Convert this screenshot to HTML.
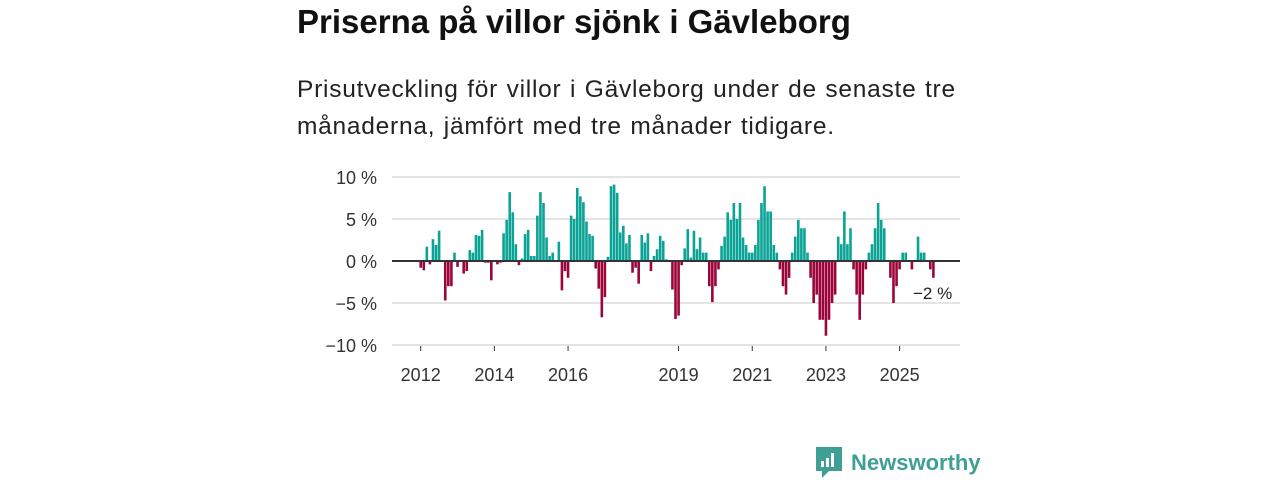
<!DOCTYPE html>
<html><head><meta charset="utf-8"><style>
body{margin:0;background:#fff;width:1280px;height:480px;overflow:hidden;font-family:"Liberation Sans","DejaVu Sans",sans-serif;}
#title{position:absolute;left:297px;top:3px;font-size:33px;font-weight:bold;color:#111;margin:0;}
#sub{position:absolute;left:297px;top:71px;font-size:24.5px;letter-spacing:0.75px;word-spacing:1px;line-height:37px;color:#222;width:700px;}
svg{position:absolute;left:0;top:0;}
</style></head><body>
<h1 id="title">Priserna på villor sjönk i Gävleborg</h1>
<div id="sub">Prisutveckling för villor i Gävleborg under de senaste tre månaderna, jämfört med tre månader tidigare.</div>
<svg id="chart" width="1280" height="480"></svg>
<div style="position:absolute;left:815px;top:447px;display:flex;align-items:center;">
<svg width="28" height="32" style="position:static"><path d="M1 0h26v24H14l-7 7v-7H1z" fill="#3f9f94"/><rect x="6" y="14" width="3" height="6" fill="#fff"/><rect x="11" y="11" width="3" height="9" fill="#fff"/><rect x="16" y="6" width="3" height="14" fill="#fff"/></svg>
<span style="margin-left:8px;font-size:22px;color:#3f9f94;font-weight:bold;">Newsworthy</span></div>
<script>
const values=[-0.8,-1.1,1.7,-0.4,2.6,1.9,3.6,0,-4.7,-3.0,-3.0,1.0,-0.7,0,-1.5,-1.2,1.3,1.0,3.1,3.0,3.7,-0.2,-0.2,-2.3,
0,-0.4,-0.2,3.3,4.9,8.2,5.8,2.0,-0.5,0.3,3.2,3.7,0.6,0.6,5.4,8.2,6.9,2.8,0.6,1.0,0.1,2.3,-3.5,-1.2,
-2.0,5.4,5.0,8.7,7.7,7.0,4.7,3.2,3.0,-0.9,-3.3,-6.7,-4.3,0.5,8.9,9.1,8.1,3.4,4.2,2.1,3.1,-1.4,-0.8,-2.7,
3.1,2.2,3.3,-1.2,0.6,1.4,3.0,2.4,0.2,0,-3.4,-6.9,-6.5,-0.5,1.5,3.8,0.4,3.6,1.4,2.8,1.0,1.0,-3.0,-4.9,
-3.0,-1.0,1.8,2.9,5.8,4.9,6.9,5.0,6.9,2.8,1.9,1.0,1.0,1.9,4.9,6.9,8.9,5.9,5.9,1.9,1.0,-1.0,-3.0,-4.0,
-2.0,1.0,2.9,4.9,3.9,3.9,1.0,-2.0,-5.0,-4.0,-7.0,-7.0,-8.9,-7.0,-5.0,-4.0,2.9,2.0,5.9,2.0,3.9,-1.0,-4.0,-7.0,
-4.0,-1.0,1.0,2.0,3.9,6.9,4.9,3.9,0,-2.0,-5.0,-3.0,-1.0,1.0,1.0,0,-1.0,0,2.9,1.0,1.0,0,-1.0,-2.0];
const yTicks=[10,5,0,-5,-10];
const yTickLabels=["10 %","5 %","0 %","−5 %","−10 %"];
const xTickYears=[2012,2014,2016,2019,2021,2023,2025];
const startYear=2012;
const lastLabel="−2 %";
const svg=document.getElementById('chart');
const NS='http://www.w3.org/2000/svg';
const y=v=>261-v*8.4;
const x=m=>420.7+m*3.07;
function mk(t,a){const e=document.createElementNS(NS,t);for(const k in a)e.setAttribute(k,a[k]);svg.appendChild(e);return e;}
yTicks.forEach((t,i)=>{
 if(t!==0){const g=mk('line',{x1:392,x2:960,y1:y(t),y2:y(t),stroke:'#dcdcdc','stroke-width':1.5});
 
 }
 const l=mk('text',{x:377,y:y(t)+7,'text-anchor':'end','font-size':18,fill:'#333'});
 l.textContent=yTickLabels[i];
 
 
});
values.forEach((v,m)=>{
 const r=mk('rect',{x:x(m)-1.3,width:2.6,y:v>=0?y(v):y(0),height:Math.abs(v)*8.4,fill:v>=0?'#0aa396':'#9c0539'});
 
 
});
const z=mk('line',{x1:392,x2:960,y1:261,y2:261,stroke:'#333','stroke-width':2});


xTickYears.forEach(yr=>{
 const px=x((yr-startYear)*12);
 const tk=mk('line',{x1:px,x2:px,y1:346,y2:351,stroke:'#333','stroke-width':1});
 
 
 const l=mk('text',{x:px,y:381,'text-anchor':'middle','font-size':18,fill:'#333'});
 l.textContent=yr;
 
 
});
const la=mk('text',{x:913,y:299,'font-size':17,fill:'#222'});
la.textContent=lastLabel;


</script>
</body></html>
